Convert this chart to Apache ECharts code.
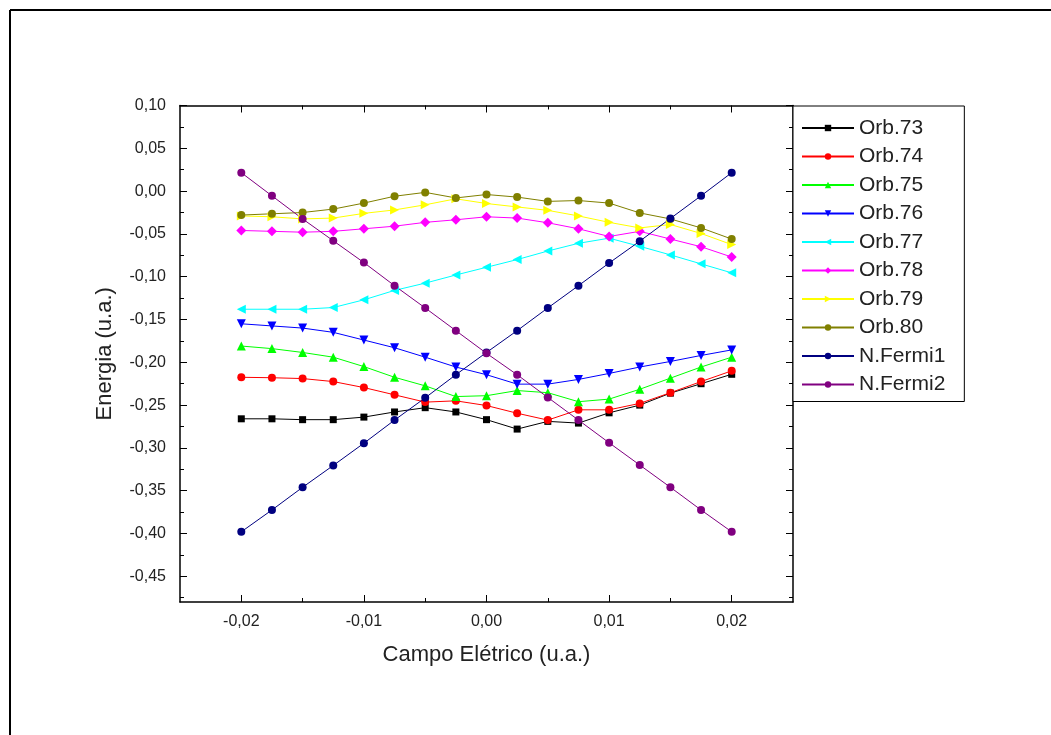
<!DOCTYPE html>
<html>
<head>
<meta charset="utf-8">
<title>Energia vs Campo Elétrico</title>
<script src="https://cdn.jsdelivr.net/npm/echarts@6/dist/echarts.min.js"></script>
<style>
  html, body { margin: 0; padding: 0; background: #ffffff; }
  #chart { width: 1051px; height: 735px; }
</style>
</head>
<body>
<div id="chart"></div>
<script>
// Electric field values (u.a.)
const campo = [-0.02, -0.0175, -0.015, -0.0125, -0.01, -0.0075, -0.005, -0.0025, 0,
               0.0025, 0.005, 0.0075, 0.01, 0.0125, 0.015, 0.0175, 0.02];

// Orbital energies (u.a.)
const orb73 = [-0.266, -0.266, -0.267, -0.267, -0.264, -0.258, -0.253, -0.258, -0.267,
               -0.278, -0.269, -0.271, -0.259, -0.250, -0.236, -0.225, -0.214];
const orb74 = [-0.2175, -0.218, -0.219, -0.2225, -0.2295, -0.238, -0.2465, -0.245, -0.2505,
               -0.2595, -0.2675, -0.2555, -0.2555, -0.248, -0.2355, -0.2225, -0.210];
const orb75 = [-0.181, -0.184, -0.1885, -0.194, -0.205, -0.2175, -0.2275, -0.240, -0.239,
               -0.233, -0.2355, -0.246, -0.243, -0.2315, -0.2185, -0.2055, -0.194];
const orb76 = [-0.155, -0.1575, -0.160, -0.165, -0.174, -0.183, -0.194, -0.2055, -0.2145,
               -0.2255, -0.2255, -0.220, -0.213, -0.2055, -0.199, -0.192, -0.1855];
const orb77 = [-0.138, -0.138, -0.138, -0.136, -0.127, -0.116, -0.1075, -0.098, -0.089,
               -0.080, -0.070, -0.061, -0.055, -0.0645, -0.0745, -0.085, -0.0955];
const orb78 = [-0.046, -0.047, -0.048, -0.047, -0.044, -0.041, -0.0365, -0.0335, -0.030,
               -0.0315, -0.037, -0.044, -0.053, -0.047, -0.056, -0.065, -0.077];
const orb79 = [-0.029, -0.030, -0.0325, -0.0315, -0.026, -0.022, -0.016, -0.009, -0.0145,
               -0.0185, -0.0225, -0.029, -0.0365, -0.043, -0.039, -0.0495, -0.0625];
const orb80 = [-0.028, -0.0265, -0.025, -0.021, -0.014, -0.006, -0.0015, -0.008, -0.004,
               -0.007, -0.012, -0.011, -0.014, -0.0255, -0.0325, -0.043, -0.056];
const fermi1 = [-0.398, -0.3725, -0.346, -0.3205, -0.2945, -0.2675, -0.2415, -0.2145, -0.1885,
                -0.163, -0.1365, -0.1105, -0.084, -0.0585, -0.032, -0.0055, 0.0215];
const fermi2 = [0.0215, -0.0055, -0.0325, -0.058, -0.0835, -0.1105, -0.1365, -0.163, -0.1895,
                -0.2145, -0.241, -0.2675, -0.294, -0.320, -0.346, -0.3725, -0.398];

// Tick positions
const xMajorTicks = [-0.02, -0.01, 0, 0.01, 0.02];
const xMinorTicks = [-0.015, -0.005, 0.005, 0.015];
const yMajorTicks = [0.10, 0.05, 0, -0.05, -0.10, -0.15, -0.20, -0.25, -0.30, -0.35, -0.40, -0.45];
const yMinorTicks = [0.075, 0.025, -0.025, -0.075, -0.125, -0.175, -0.225, -0.275, -0.325, -0.375, -0.425, -0.475];

const X_MIN = -0.025, X_MAX = 0.025;
const Y_MIN = -0.48, Y_MAX = 0.10;

const FONT = "'Liberation Sans', Arial, sans-serif";
const TEXT_COLOR = '#222';

const seriesDefs = [
  { name: 'Orb.73',   data: orb73,  color: '#000000', symbol: 'rect',     size: 7 },
  { name: 'Orb.74',   data: orb74,  color: '#ff0000', symbol: 'circle',   size: 8 },
  { name: 'Orb.75',   data: orb75,  color: '#00ff00', symbol: 'triangle', size: 9 },
  { name: 'Orb.76',   data: orb76,  color: '#0000ff', symbol: 'triangle', size: 9, rotate: 180 },
  { name: 'Orb.77',   data: orb77,  color: '#00ffff', symbol: 'triangle', size: 9, rotate: 90 },
  { name: 'Orb.78',   data: orb78,  color: '#ff00ff', symbol: 'diamond',  size: 10 },
  { name: 'Orb.79',   data: orb79,  color: '#ffff00', symbol: 'triangle', size: 9, rotate: -90 },
  { name: 'Orb.80',   data: orb80,  color: '#808000', symbol: 'circle',   size: 8 },
  { name: 'N.Fermi1', data: fermi1, color: '#000080', symbol: 'circle',   size: 8 },
  { name: 'N.Fermi2', data: fermi2, color: '#800080', symbol: 'circle',   size: 8 }
];

const commaFmt = v => v.toFixed(2).replace('.', ',');

function xAxisDef(position, ticks, len, withLine, withLabels) {
  return {
    type: 'value', position, min: X_MIN, max: X_MAX,
    axisLine: { show: withLine, onZero: false, lineStyle: { color: '#000', width: 1.5 } },
    axisTick: { show: true, inside: true, length: len, customValues: ticks,
                lineStyle: { color: '#000', width: 1 } },
    axisLabel: withLabels
      ? { show: true, customValues: ticks, formatter: commaFmt, margin: 12,
          color: TEXT_COLOR, fontSize: 16, fontFamily: FONT }
      : { show: false },
    splitLine: { show: false }
  };
}

function yAxisDef(position, ticks, len, withLine, withLabels) {
  return {
    type: 'value', position, min: Y_MIN, max: Y_MAX,
    axisLine: { show: withLine, onZero: false, lineStyle: { color: '#000', width: 1.5 } },
    axisTick: { show: true, inside: true, length: len, customValues: ticks,
                lineStyle: { color: '#000', width: 1 } },
    axisLabel: withLabels
      ? { show: true, customValues: ticks, formatter: commaFmt, margin: 14,
          color: TEXT_COLOR, fontSize: 16, fontFamily: FONT }
      : { show: false },
    splitLine: { show: false }
  };
}

const xAxes = [
  Object.assign(xAxisDef('bottom', xMajorTicks, 7, true, true), {
    name: 'Campo Elétrico (u.a.)', nameLocation: 'middle', nameGap: 42,
    nameTextStyle: { fontSize: 22, color: TEXT_COLOR, fontFamily: FONT }
  }),
  xAxisDef('bottom', xMinorTicks, 4, false, false),
  xAxisDef('top', xMajorTicks, 7, true, false),
  xAxisDef('top', xMinorTicks, 4, false, false)
];

const yAxes = [
  Object.assign(yAxisDef('left', yMajorTicks, 7, true, true), {
    name: 'Energia (u.a.)', nameLocation: 'middle', nameGap: 64,
    nameTextStyle: { fontSize: 22, color: TEXT_COLOR, fontFamily: FONT }
  }),
  yAxisDef('left', yMinorTicks, 4, false, false),
  yAxisDef('right', yMajorTicks, 7, true, false),
  yAxisDef('right', yMinorTicks, 4, false, false)
];

const chart = echarts.init(document.getElementById('chart'), null, { renderer: 'canvas' });

chart.setOption({
  animation: false,
  backgroundColor: '#ffffff',
  grid: { left: 180, top: 105.5, right: 258, bottom: 133, containLabel: false },
  xAxis: xAxes,
  yAxis: yAxes,
  legend: {
    orient: 'vertical',
    left: 793, top: 106,
    padding: [10, 19, 5, 8],
    itemWidth: 52, itemHeight: 8, itemGap: 4.5,
    borderColor: '#000', borderWidth: 1, borderRadius: 0,
    backgroundColor: '#fff',
    textStyle: { fontSize: 21, lineHeight: 24, color: TEXT_COLOR, fontFamily: FONT },
    data: seriesDefs.map(s => s.name)
  },
  graphic: [
    { type: 'line', shape: { x1: 10, y1: 10, x2: 1051, y2: 10 }, style: { stroke: '#000', lineWidth: 2 } },
    { type: 'line', shape: { x1: 10, y1: 10, x2: 10, y2: 735 }, style: { stroke: '#000', lineWidth: 2 } }
  ],
  series: seriesDefs.map(s => ({
    name: s.name,
    type: 'line',
    xAxisIndex: 0,
    yAxisIndex: 0,
    data: campo.map((x, i) => [x, s.data[i]]),
    symbol: s.symbol,
    symbolSize: s.size,
    symbolRotate: s.rotate || 0,
    showAllSymbol: true,
    smooth: false,
    color: s.color,
    lineStyle: { color: s.color, width: 1 },
    itemStyle: { color: s.color },
    emphasis: { disabled: true }
  }))
});
</script>
</body>
</html>
